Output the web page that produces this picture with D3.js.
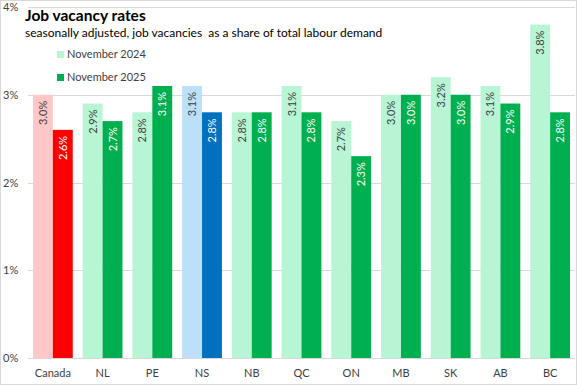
<!DOCTYPE html>
<html>
<head>
<meta charset="utf-8">
<script src="https://cdn.jsdelivr.net/npm/d3@7"></script>
<style>
  body { margin: 0; background: #fff; }
  svg { display: block; font-family: "Lato", "Open Sans", sans-serif; }
</style>
</head>
<body>
<svg id="chart" width="577" height="385"></svg>
<script>
// chart data
var regions = ["Canada", "NL", "PE", "NS", "NB", "QC", "ON", "MB", "SK", "AB", "BC"];
var nov2024 = [3.0, 2.9, 2.8, 3.1, 2.8, 3.1, 2.7, 3.0, 3.2, 3.1, 3.8];
var nov2025 = [2.6, 2.7, 3.1, 2.8, 2.8, 2.8, 2.3, 3.0, 3.0, 2.9, 2.8];
var yTicks = [0, 1, 2, 3, 4];
var seriesNames = ["November 2024", "November 2025"];

// highlight colours: [light, dark]
var colours = {
    "default": ["#b8f5d4", "#00b050"],
    "Canada": ["#ffc7c7", "#ff0000"],
    "NS": ["#bde0fa", "#0070c0"]
};

var svg = d3.select("#chart"),
    width = 577,
    height = 385,
    margin = {top: 7, right: 2, bottom: 27, left: 28};

var plotW = width - margin.left - margin.right,
    plotH = height - margin.top - margin.bottom;

// frame
svg.append("rect")
    .attr("x", 0.5).attr("y", 0.5)
    .attr("width", width - 1).attr("height", height - 1)
    .attr("fill", "none").attr("stroke", "#d9d9d9");

var g = svg.append("g")
    .attr("transform", "translate(" + margin.left + "," + margin.top + ")");

var xScale = d3.scaleBand()
    .domain(regions)
    .range([0, plotW])
    .paddingInner(0.2)
    .paddingOuter(0.1);

var yScale = d3.scaleLinear()
    .domain([0, 4])
    .range([plotH, 0]);

// gridlines
g.selectAll(".grid")
    .data(yTicks)
    .enter().append("line")
    .attr("x1", 0).attr("x2", plotW)
    .attr("y1", function (d) { return Math.round(yScale(d)) + 0.5; })
    .attr("y2", function (d) { return Math.round(yScale(d)) + 0.5; })
    .attr("stroke", "#d9d9d9");

// y tick labels
g.selectAll(".ylab")
    .data(yTicks)
    .enter().append("text")
    .attr("x", -25)
    .attr("y", function (d) { return yScale(d) + 4; })
    .attr("font-size", 11)
    .attr("fill", "#404040")
    .text(function (d) { return d + "%"; });

// x labels
g.selectAll(".xlab")
    .data(regions)
    .enter().append("text")
    .attr("x", function (d) { return xScale(d) + xScale.bandwidth() / 2; })
    .attr("y", plotH + 19)
    .attr("text-anchor", "middle")
    .attr("font-size", 11)
    .attr("fill", "#404040")
    .text(function (d) { return d; });

var barW = xScale.bandwidth() / 2;
var series = [nov2024, nov2025];

series.forEach(function (vals, s) {
    var data = regions.map(function (r, i) { return {region: r, value: vals[i]}; });
    var grp = g.append("g");

    grp.selectAll("rect")
        .data(data)
        .enter().append("rect")
        .attr("x", function (d) { return xScale(d.region) + s * barW; })
        .attr("y", function (d) { return yScale(d.value); })
        .attr("width", barW)
        .attr("height", function (d) { return plotH - yScale(d.value); })
        .attr("fill", function (d) {
            return (colours[d.region] || colours["default"])[s];
        });

    // value labels, rotated, near top of the bar
    grp.selectAll("text")
        .data(data)
        .enter().append("text")
        .attr("transform", function (d) {
            var cx = xScale(d.region) + s * barW + barW / 2 + 4;
            var cy = yScale(d.value) + 6;
            return "translate(" + cx + "," + cy + ") rotate(-90)";
        })
        .attr("text-anchor", "end")
        .attr("font-size", 11)
        .attr("fill", s === 0 ? "#404040" : "#ffffff")
        .text(function (d) { return d.value.toFixed(1) + "%"; });
});

// title and subtitle
svg.append("text")
    .attr("x", 25).attr("y", 21)
    .attr("font-size", 15.5)
    .attr("font-weight", "bold")
    .attr("fill", "#000")
    .text("Job vacancy rates");

svg.append("text")
    .attr("x", 25).attr("y", 37)
    .attr("font-size", 12)
    .attr("fill", "#000")
    .style("white-space", "pre")
    .text("seasonally adjusted, job vacancies  as a share of total labour demand");

// legend
var legend = svg.append("g");
seriesNames.forEach(function (name, i) {
    var ly = 57 + i * 23;
    legend.append("rect")
        .attr("x", 57).attr("y", ly - 6)
        .attr("width", 7).attr("height", 7)
        .attr("fill", colours["default"][i]);
    legend.append("text")
        .attr("x", 67).attr("y", ly + 1)
        .attr("font-size", 11)
        .attr("fill", "#404040")
        .text(name);
});
</script>
</body>
</html>
